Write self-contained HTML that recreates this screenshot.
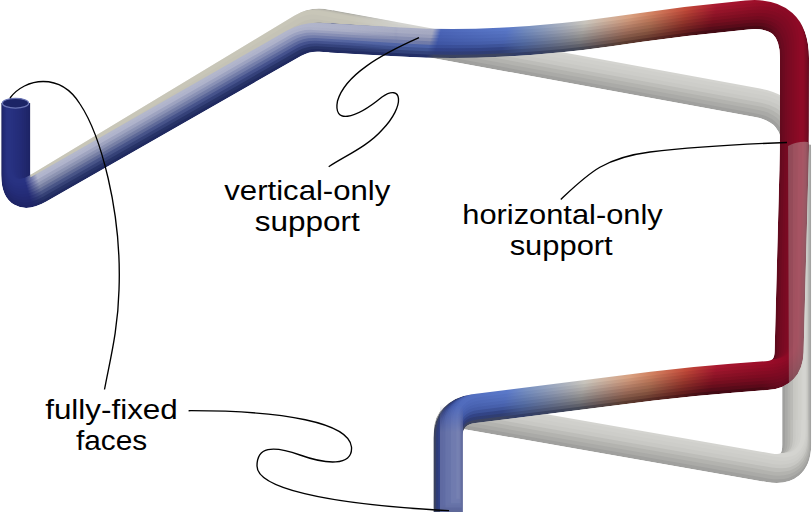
<!DOCTYPE html>
<html><head><meta charset="utf-8"><style>
html,body{margin:0;padding:0;background:#fff;width:812px;height:514px;overflow:hidden}
svg{display:block}
text{font-family:"Liberation Sans",sans-serif}
</style></head><body><svg width="812" height="514" viewBox="0 0 812 514">
<defs><mask id="mca" maskUnits="userSpaceOnUse" x="-10" y="-10" width="832" height="534"><path d="M 15.8 103.0 L 15.8 175.4 Q 15.8 202.4 39.2 189.0 L 293.8 43.4 Q 306.0 36.5 320.0 37.3 L 400.0 42.1" fill="none" stroke="#fff" stroke-width="29" stroke-linejoin="round" stroke-linecap="butt"/></mask><linearGradient id="ca0" gradientUnits="userSpaceOnUse" x1="0" y1="0" x2="812" y2="0"><stop offset="0.0000" stop-color="#1e2466"/><stop offset="0.0394" stop-color="#1e2466"/><stop offset="0.0542" stop-color="#202a60"/><stop offset="0.3695" stop-color="#202a60"/><stop offset="0.5246" stop-color="#243068"/><stop offset="0.5345" stop-color="#3a4260"/><stop offset="0.6158" stop-color="#3c4460"/><stop offset="0.6404" stop-color="#303c68"/><stop offset="0.7118" stop-color="#464a58"/><stop offset="0.7672" stop-color="#5a3c30"/><stop offset="0.7943" stop-color="#583028"/><stop offset="0.8374" stop-color="#501818"/><stop offset="0.8744" stop-color="#420a14"/><stop offset="0.9360" stop-color="#4a0814"/><stop offset="0.9606" stop-color="#640a1e"/><stop offset="1.0000" stop-color="#640a1e"/></linearGradient><linearGradient id="ca1" gradientUnits="userSpaceOnUse" x1="0" y1="0" x2="812" y2="0"><stop offset="0.0000" stop-color="#1f266a"/><stop offset="0.0394" stop-color="#1f266a"/><stop offset="0.0542" stop-color="#273367"/><stop offset="0.3695" stop-color="#273367"/><stop offset="0.5246" stop-color="#2d3b73"/><stop offset="0.5345" stop-color="#343f6e"/><stop offset="0.6158" stop-color="#35406b"/><stop offset="0.6404" stop-color="#374674"/><stop offset="0.7118" stop-color="#555863"/><stop offset="0.7672" stop-color="#684639"/><stop offset="0.7943" stop-color="#653b2f"/><stop offset="0.8374" stop-color="#5c1d1c"/><stop offset="0.8744" stop-color="#4e0b17"/><stop offset="0.9360" stop-color="#540817"/><stop offset="0.9606" stop-color="#690a1f"/><stop offset="1.0000" stop-color="#690a1f"/></linearGradient><linearGradient id="ca2" gradientUnits="userSpaceOnUse" x1="0" y1="0" x2="812" y2="0"><stop offset="0.0000" stop-color="#21286e"/><stop offset="0.0394" stop-color="#21286e"/><stop offset="0.0542" stop-color="#364276"/><stop offset="0.3695" stop-color="#34417b"/><stop offset="0.5246" stop-color="#364780"/><stop offset="0.5345" stop-color="#2e3d7c"/><stop offset="0.6158" stop-color="#2e3d75"/><stop offset="0.6404" stop-color="#3e5081"/><stop offset="0.7118" stop-color="#64666d"/><stop offset="0.7672" stop-color="#765042"/><stop offset="0.7943" stop-color="#734536"/><stop offset="0.8374" stop-color="#69231f"/><stop offset="0.8744" stop-color="#5b0d19"/><stop offset="0.9360" stop-color="#5e0919"/><stop offset="0.9606" stop-color="#6e0a20"/><stop offset="1.0000" stop-color="#6e0a20"/></linearGradient><linearGradient id="ca3" gradientUnits="userSpaceOnUse" x1="0" y1="0" x2="812" y2="0"><stop offset="0.0000" stop-color="#222972"/><stop offset="0.0394" stop-color="#222972"/><stop offset="0.0542" stop-color="#495586"/><stop offset="0.3695" stop-color="#45528e"/><stop offset="0.5246" stop-color="#405493"/><stop offset="0.5345" stop-color="#31438a"/><stop offset="0.6158" stop-color="#334685"/><stop offset="0.6404" stop-color="#45598d"/><stop offset="0.7118" stop-color="#737378"/><stop offset="0.7672" stop-color="#855b4b"/><stop offset="0.7943" stop-color="#80503d"/><stop offset="0.8374" stop-color="#752823"/><stop offset="0.8744" stop-color="#670e1c"/><stop offset="0.9360" stop-color="#69091c"/><stop offset="0.9606" stop-color="#730a21"/><stop offset="1.0000" stop-color="#730a21"/></linearGradient><linearGradient id="ca4" gradientUnits="userSpaceOnUse" x1="0" y1="0" x2="812" y2="0"><stop offset="0.0000" stop-color="#232b76"/><stop offset="0.0394" stop-color="#232b76"/><stop offset="0.0542" stop-color="#616b95"/><stop offset="0.3695" stop-color="#5c689d"/><stop offset="0.5246" stop-color="#4a61a7"/><stop offset="0.5345" stop-color="#374c96"/><stop offset="0.6158" stop-color="#3d5297"/><stop offset="0.6404" stop-color="#4c639a"/><stop offset="0.7118" stop-color="#828183"/><stop offset="0.7672" stop-color="#936554"/><stop offset="0.7943" stop-color="#8d5b44"/><stop offset="0.8374" stop-color="#822d26"/><stop offset="0.8744" stop-color="#740f1f"/><stop offset="0.9360" stop-color="#730a1f"/><stop offset="0.9606" stop-color="#780a22"/><stop offset="1.0000" stop-color="#780a22"/></linearGradient><linearGradient id="ca5" gradientUnits="userSpaceOnUse" x1="0" y1="0" x2="812" y2="0"><stop offset="0.0000" stop-color="#242d79"/><stop offset="0.0394" stop-color="#242d79"/><stop offset="0.0542" stop-color="#7981a3"/><stop offset="0.3695" stop-color="#737dab"/><stop offset="0.5246" stop-color="#6a77a8"/><stop offset="0.5345" stop-color="#3d54a3"/><stop offset="0.6158" stop-color="#465fa9"/><stop offset="0.6404" stop-color="#546ca4"/><stop offset="0.7118" stop-color="#918f8e"/><stop offset="0.7672" stop-color="#a1705c"/><stop offset="0.7943" stop-color="#9b644b"/><stop offset="0.8374" stop-color="#8e332a"/><stop offset="0.8744" stop-color="#7f1122"/><stop offset="0.9360" stop-color="#7c0a21"/><stop offset="0.9606" stop-color="#7c0a22"/><stop offset="1.0000" stop-color="#7c0a22"/></linearGradient><linearGradient id="ca6" gradientUnits="userSpaceOnUse" x1="0" y1="0" x2="812" y2="0"><stop offset="0.0000" stop-color="#252e7b"/><stop offset="0.0394" stop-color="#252e7b"/><stop offset="0.0542" stop-color="#8d94b2"/><stop offset="0.3695" stop-color="#8890b7"/><stop offset="0.5246" stop-color="#848bae"/><stop offset="0.5345" stop-color="#425aab"/><stop offset="0.6158" stop-color="#4d67b4"/><stop offset="0.6404" stop-color="#5d75ab"/><stop offset="0.7118" stop-color="#9f9c99"/><stop offset="0.7672" stop-color="#af7c65"/><stop offset="0.7943" stop-color="#a86b50"/><stop offset="0.8374" stop-color="#9b382d"/><stop offset="0.8744" stop-color="#891325"/><stop offset="0.9360" stop-color="#830b23"/><stop offset="0.9606" stop-color="#810a23"/><stop offset="1.0000" stop-color="#810a23"/></linearGradient><linearGradient id="ca7" gradientUnits="userSpaceOnUse" x1="0" y1="0" x2="812" y2="0"><stop offset="0.0000" stop-color="#262f7e"/><stop offset="0.0394" stop-color="#262f7e"/><stop offset="0.0542" stop-color="#9fa4bf"/><stop offset="0.3695" stop-color="#9ca2c1"/><stop offset="0.5246" stop-color="#979cb9"/><stop offset="0.5345" stop-color="#455eaf"/><stop offset="0.6158" stop-color="#516dbb"/><stop offset="0.6404" stop-color="#667eb2"/><stop offset="0.7118" stop-color="#aca9a5"/><stop offset="0.7672" stop-color="#bc886e"/><stop offset="0.7943" stop-color="#b57255"/><stop offset="0.8374" stop-color="#a73d31"/><stop offset="0.8744" stop-color="#941429"/><stop offset="0.9360" stop-color="#8b0b24"/><stop offset="0.9606" stop-color="#850a24"/><stop offset="1.0000" stop-color="#850a24"/></linearGradient><linearGradient id="ca8" gradientUnits="userSpaceOnUse" x1="0" y1="0" x2="812" y2="0"><stop offset="0.0000" stop-color="#273180"/><stop offset="0.0394" stop-color="#273180"/><stop offset="0.0542" stop-color="#b0b4cc"/><stop offset="0.3695" stop-color="#aeb2ca"/><stop offset="0.5246" stop-color="#a5a9c1"/><stop offset="0.5345" stop-color="#4962b4"/><stop offset="0.6158" stop-color="#5672c1"/><stop offset="0.6404" stop-color="#6f87b9"/><stop offset="0.7118" stop-color="#bab7b0"/><stop offset="0.7672" stop-color="#ca9477"/><stop offset="0.7943" stop-color="#c3795b"/><stop offset="0.8374" stop-color="#b44334"/><stop offset="0.8744" stop-color="#9e162c"/><stop offset="0.9360" stop-color="#920c26"/><stop offset="0.9606" stop-color="#8a0a25"/><stop offset="1.0000" stop-color="#8a0a25"/></linearGradient><linearGradient id="ca9" gradientUnits="userSpaceOnUse" x1="0" y1="0" x2="812" y2="0"><stop offset="0.0000" stop-color="#283282"/><stop offset="0.0394" stop-color="#283282"/><stop offset="0.0542" stop-color="#b4b8cc"/><stop offset="0.3695" stop-color="#b2b6cc"/><stop offset="0.5246" stop-color="#a8acc4"/><stop offset="0.5345" stop-color="#4c66b8"/><stop offset="0.6158" stop-color="#5a78c8"/><stop offset="0.6404" stop-color="#7890c0"/><stop offset="0.7118" stop-color="#c8c4bc"/><stop offset="0.7672" stop-color="#d8a080"/><stop offset="0.7943" stop-color="#d08060"/><stop offset="0.8374" stop-color="#c04838"/><stop offset="0.8744" stop-color="#a81830"/><stop offset="0.9360" stop-color="#9a0c28"/><stop offset="0.9606" stop-color="#8e0a26"/><stop offset="1.0000" stop-color="#8e0a26"/></linearGradient><mask id="mcb" maskUnits="userSpaceOnUse" x="-10" y="-10" width="832" height="534"><path d="M 330.0 37.9 L 400.1 42.0 Q 450.0 45.0 499.9 42.3 L 510.1 41.7 Q 560.0 39.0 609.5 31.9 L 640.5 27.5 Q 690.0 20.4 739.8 15.7 L 746.8 15.0 Q 794.6 10.5 794.5 58.5 L 794.4 130.0 Q 794.4 150.0 793.9 170.0 L 789.1 352.0 Q 788.5 374.0 766.6 375.6 L 731.9 378.2 Q 692.0 381.2 652.3 386.2 L 473.8 408.7 Q 448.0 412.0 448.0 438.0 L 448.0 512.0" fill="none" stroke="#fff" stroke-width="29" stroke-linejoin="round" stroke-linecap="butt"/></mask><linearGradient id="cb0" gradientUnits="userSpaceOnUse" x1="0" y1="0" x2="812" y2="0"><stop offset="0.0000" stop-color="#1e2466"/><stop offset="0.0394" stop-color="#1e2466"/><stop offset="0.0542" stop-color="#202a60"/><stop offset="0.3695" stop-color="#202a60"/><stop offset="0.5246" stop-color="#243068"/><stop offset="0.5345" stop-color="#3a4260"/><stop offset="0.6158" stop-color="#3c4460"/><stop offset="0.6404" stop-color="#303c68"/><stop offset="0.7118" stop-color="#464a58"/><stop offset="0.7672" stop-color="#5a3c30"/><stop offset="0.7943" stop-color="#583028"/><stop offset="0.8374" stop-color="#501818"/><stop offset="0.8744" stop-color="#420a14"/><stop offset="0.9360" stop-color="#4a0814"/><stop offset="0.9606" stop-color="#640a1e"/><stop offset="1.0000" stop-color="#640a1e"/></linearGradient><linearGradient id="cb1" gradientUnits="userSpaceOnUse" x1="0" y1="0" x2="812" y2="0"><stop offset="0.0000" stop-color="#20276d"/><stop offset="0.0394" stop-color="#20276d"/><stop offset="0.0542" stop-color="#323e72"/><stop offset="0.3695" stop-color="#303d75"/><stop offset="0.5246" stop-color="#33437b"/><stop offset="0.5345" stop-color="#2f3d78"/><stop offset="0.6158" stop-color="#303e72"/><stop offset="0.6404" stop-color="#3c4d7d"/><stop offset="0.7118" stop-color="#60616a"/><stop offset="0.7672" stop-color="#724d3f"/><stop offset="0.7943" stop-color="#6f4234"/><stop offset="0.8374" stop-color="#65211e"/><stop offset="0.8744" stop-color="#570c19"/><stop offset="0.9360" stop-color="#5b0919"/><stop offset="0.9606" stop-color="#6c0a20"/><stop offset="1.0000" stop-color="#6c0a20"/></linearGradient><linearGradient id="cb2" gradientUnits="userSpaceOnUse" x1="0" y1="0" x2="812" y2="0"><stop offset="0.0000" stop-color="#222972"/><stop offset="0.0394" stop-color="#222972"/><stop offset="0.0542" stop-color="#495485"/><stop offset="0.3695" stop-color="#44528d"/><stop offset="0.5246" stop-color="#3f5493"/><stop offset="0.5345" stop-color="#314289"/><stop offset="0.6158" stop-color="#334585"/><stop offset="0.6404" stop-color="#45598d"/><stop offset="0.7118" stop-color="#737378"/><stop offset="0.7672" stop-color="#845a4a"/><stop offset="0.7943" stop-color="#80503d"/><stop offset="0.8374" stop-color="#752823"/><stop offset="0.8744" stop-color="#670e1c"/><stop offset="0.9360" stop-color="#68091c"/><stop offset="0.9606" stop-color="#730a21"/><stop offset="1.0000" stop-color="#730a21"/></linearGradient><linearGradient id="cb3" gradientUnits="userSpaceOnUse" x1="0" y1="0" x2="812" y2="0"><stop offset="0.0000" stop-color="#232b76"/><stop offset="0.0394" stop-color="#232b76"/><stop offset="0.0542" stop-color="#636d96"/><stop offset="0.3695" stop-color="#5e6a9e"/><stop offset="0.5246" stop-color="#4c63a8"/><stop offset="0.5345" stop-color="#384d98"/><stop offset="0.6158" stop-color="#3e5499"/><stop offset="0.6404" stop-color="#4d649b"/><stop offset="0.7118" stop-color="#848384"/><stop offset="0.7672" stop-color="#946655"/><stop offset="0.7943" stop-color="#8f5c45"/><stop offset="0.8374" stop-color="#832e27"/><stop offset="0.8744" stop-color="#750f1f"/><stop offset="0.9360" stop-color="#740a1f"/><stop offset="0.9606" stop-color="#780a22"/><stop offset="1.0000" stop-color="#780a22"/></linearGradient><linearGradient id="cb4" gradientUnits="userSpaceOnUse" x1="0" y1="0" x2="812" y2="0"><stop offset="0.0000" stop-color="#252d79"/><stop offset="0.0394" stop-color="#252d79"/><stop offset="0.0542" stop-color="#7d85a6"/><stop offset="0.3695" stop-color="#7781ae"/><stop offset="0.5246" stop-color="#707ba8"/><stop offset="0.5345" stop-color="#3f56a5"/><stop offset="0.6158" stop-color="#4861ac"/><stop offset="0.6404" stop-color="#566ea5"/><stop offset="0.7118" stop-color="#939190"/><stop offset="0.7672" stop-color="#a3725e"/><stop offset="0.7943" stop-color="#9d654c"/><stop offset="0.8374" stop-color="#90342a"/><stop offset="0.8744" stop-color="#811122"/><stop offset="0.9360" stop-color="#7d0a21"/><stop offset="0.9606" stop-color="#7d0a23"/><stop offset="1.0000" stop-color="#7d0a23"/></linearGradient><linearGradient id="cb5" gradientUnits="userSpaceOnUse" x1="0" y1="0" x2="812" y2="0"><stop offset="0.0000" stop-color="#252e7c"/><stop offset="0.0394" stop-color="#252e7c"/><stop offset="0.0542" stop-color="#9097b4"/><stop offset="0.3695" stop-color="#8b93b9"/><stop offset="0.5246" stop-color="#878eb0"/><stop offset="0.5345" stop-color="#435bab"/><stop offset="0.6158" stop-color="#4d68b5"/><stop offset="0.6404" stop-color="#5f77ac"/><stop offset="0.7118" stop-color="#a19e9b"/><stop offset="0.7672" stop-color="#b17e67"/><stop offset="0.7943" stop-color="#aa6c51"/><stop offset="0.8374" stop-color="#9d392e"/><stop offset="0.8744" stop-color="#8b1326"/><stop offset="0.9360" stop-color="#850b23"/><stop offset="0.9606" stop-color="#810a23"/><stop offset="1.0000" stop-color="#810a23"/></linearGradient><linearGradient id="cb6" gradientUnits="userSpaceOnUse" x1="0" y1="0" x2="812" y2="0"><stop offset="0.0000" stop-color="#26307e"/><stop offset="0.0394" stop-color="#26307e"/><stop offset="0.0542" stop-color="#a2a7c1"/><stop offset="0.3695" stop-color="#9fa4c2"/><stop offset="0.5246" stop-color="#9a9fbb"/><stop offset="0.5345" stop-color="#465fb0"/><stop offset="0.6158" stop-color="#526ebc"/><stop offset="0.6404" stop-color="#6880b3"/><stop offset="0.7118" stop-color="#afaba7"/><stop offset="0.7672" stop-color="#bf8a70"/><stop offset="0.7943" stop-color="#b77356"/><stop offset="0.8374" stop-color="#a93e31"/><stop offset="0.8744" stop-color="#951529"/><stop offset="0.9360" stop-color="#8c0b25"/><stop offset="0.9606" stop-color="#860a24"/><stop offset="1.0000" stop-color="#860a24"/></linearGradient><linearGradient id="cb7" gradientUnits="userSpaceOnUse" x1="0" y1="0" x2="812" y2="0"><stop offset="0.0000" stop-color="#273180"/><stop offset="0.0394" stop-color="#273180"/><stop offset="0.0542" stop-color="#b1b5cc"/><stop offset="0.3695" stop-color="#afb3ca"/><stop offset="0.5246" stop-color="#a5a9c1"/><stop offset="0.5345" stop-color="#4962b4"/><stop offset="0.6158" stop-color="#5673c2"/><stop offset="0.6404" stop-color="#7088ba"/><stop offset="0.7118" stop-color="#bbb8b1"/><stop offset="0.7672" stop-color="#cb9578"/><stop offset="0.7943" stop-color="#c47a5b"/><stop offset="0.8374" stop-color="#b54335"/><stop offset="0.8744" stop-color="#9f162d"/><stop offset="0.9360" stop-color="#930c26"/><stop offset="0.9606" stop-color="#8a0a25"/><stop offset="1.0000" stop-color="#8a0a25"/></linearGradient><linearGradient id="cb8" gradientUnits="userSpaceOnUse" x1="0" y1="0" x2="812" y2="0"><stop offset="0.0000" stop-color="#283282"/><stop offset="0.0394" stop-color="#283282"/><stop offset="0.0542" stop-color="#b4b8cc"/><stop offset="0.3695" stop-color="#b2b6cc"/><stop offset="0.5246" stop-color="#a8acc4"/><stop offset="0.5345" stop-color="#4c66b8"/><stop offset="0.6158" stop-color="#5a78c8"/><stop offset="0.6404" stop-color="#7890c0"/><stop offset="0.7118" stop-color="#c8c4bc"/><stop offset="0.7672" stop-color="#d8a080"/><stop offset="0.7943" stop-color="#d08060"/><stop offset="0.8374" stop-color="#c04838"/><stop offset="0.8744" stop-color="#a81830"/><stop offset="0.9360" stop-color="#9a0c28"/><stop offset="0.9606" stop-color="#8e0a26"/><stop offset="1.0000" stop-color="#8e0a26"/></linearGradient><mask id="mga" maskUnits="userSpaceOnUse" x="-10" y="-10" width="832" height="534"><path d="M 15.8 103.0 L 15.8 173.5 Q 15.8 200.5 38.9 186.6 L 301.6 28.1 Q 312.7 21.4 325.5 23.7 L 400.0 37.1" fill="none" stroke="#fff" stroke-width="29" stroke-linejoin="round" stroke-linecap="butt"/></mask><mask id="mgb" maskUnits="userSpaceOnUse" x="-10" y="-10" width="832" height="534"><path d="M 330.0 24.5 L 757.4 102.8 Q 796.7 110.0 796.7 150.0 L 796.7 444.6 Q 796.7 472.6 769.1 467.8 L 469.7 415.4 Q 448.0 411.6 448.0 433.6 L 448.0 512.0" fill="none" stroke="#fff" stroke-width="29" stroke-linejoin="round" stroke-linecap="butt"/></mask><mask id="mgv" maskUnits="userSpaceOnUse" x="-10" y="-10" width="832" height="534"><path d="M 796.7 120 L 796.7 470" fill="none" stroke="#fff" stroke-width="26" stroke-linejoin="round" stroke-linecap="butt"/></mask><mask id="mgbo" maskUnits="userSpaceOnUse" x="-10" y="-10" width="832" height="534"><path d="M 451.5 400 L 451.5 512" fill="none" stroke="#fff" stroke-width="23" stroke-linejoin="round" stroke-linecap="butt"/></mask>
<linearGradient id="fadeG" gradientUnits="userSpaceOnUse" x1="350" y1="0" x2="398" y2="0"><stop offset="0" stop-color="#fff"/><stop offset="1" stop-color="#000"/></linearGradient>
<mask id="fadeA" maskUnits="userSpaceOnUse" x="0" y="0" width="812" height="514"><rect width="812" height="514" fill="url(#fadeG)"/></mask>
<clipPath id="clipGR"><path d="M 0 0 L 800 0 L 800 143 L 812 145 L 812 514 L 0 514 Z"/></clipPath>
<clipPath id="clipTop"><path d="M 0 103 L 40 103 L 40 0 L 812 0 L 812 514 L 0 514 Z"/></clipPath>
<clipPath id="clipR"><path d="M 788 146 Q 798 141 808 142 L 808 180 L 812 182 L 812 420 L 789 420 Z"/></clipPath>
<linearGradient id="mgB" x1="0" y1="0" x2="0" y2="1"><stop offset="0" stop-color="#000"/><stop offset="0.25" stop-color="#fff"/></linearGradient>
<mask id="clipBm" maskUnits="userSpaceOnUse" x="0" y="0" width="812" height="514"><rect x="440" y="405" width="30" height="109" fill="url(#mgB)"/></mask>
</defs>
<rect width="812" height="514" fill="#fff"/>
<g clip-path="url(#clipTop)">
<g clip-path="url(#clipGR)"><g mask="url(#mgb)" fill="none" stroke-linejoin="round" stroke-linecap="butt">
<path d="M 330.0 24.5 L 757.4 102.8 Q 796.7 110.0 796.7 150.0 L 796.7 444.6 Q 796.7 472.6 769.1 467.8 L 469.7 415.4 Q 448.0 411.6 448.0 433.6 L 448.0 512.0" stroke="#a0a09e" stroke-width="29.0" transform="translate(0.00 -0.00)"/>
<path d="M 330.0 24.5 L 757.4 102.8 Q 796.7 110.0 796.7 150.0 L 796.7 444.6 Q 796.7 472.6 769.1 467.8 L 469.7 415.4 Q 448.0 411.6 448.0 433.6 L 448.0 512.0" stroke="#aaaaa7" stroke-width="25.5" transform="translate(0.95 -1.90)"/>
<path d="M 330.0 24.5 L 757.4 102.8 Q 796.7 110.0 796.7 150.0 L 796.7 444.6 Q 796.7 472.6 769.1 467.8 L 469.7 415.4 Q 448.0 411.6 448.0 433.6 L 448.0 512.0" stroke="#b3b3af" stroke-width="22.0" transform="translate(1.90 -3.80)"/>
<path d="M 330.0 24.5 L 757.4 102.8 Q 796.7 110.0 796.7 150.0 L 796.7 444.6 Q 796.7 472.6 769.1 467.8 L 469.7 415.4 Q 448.0 411.6 448.0 433.6 L 448.0 512.0" stroke="#bdbdb9" stroke-width="18.4" transform="translate(2.85 -5.70)"/>
<path d="M 330.0 24.5 L 757.4 102.8 Q 796.7 110.0 796.7 150.0 L 796.7 444.6 Q 796.7 472.6 769.1 467.8 L 469.7 415.4 Q 448.0 411.6 448.0 433.6 L 448.0 512.0" stroke="#c8c8c4" stroke-width="14.9" transform="translate(3.80 -7.61)"/>
<path d="M 330.0 24.5 L 757.4 102.8 Q 796.7 110.0 796.7 150.0 L 796.7 444.6 Q 796.7 472.6 769.1 467.8 L 469.7 415.4 Q 448.0 411.6 448.0 433.6 L 448.0 512.0" stroke="#cdcdc9" stroke-width="11.4" transform="translate(4.75 -9.51)"/>
<path d="M 330.0 24.5 L 757.4 102.8 Q 796.7 110.0 796.7 150.0 L 796.7 444.6 Q 796.7 472.6 769.1 467.8 L 469.7 415.4 Q 448.0 411.6 448.0 433.6 L 448.0 512.0" stroke="#d0d0cc" stroke-width="7.9" transform="translate(5.70 -11.41)"/>
<path d="M 330.0 24.5 L 757.4 102.8 Q 796.7 110.0 796.7 150.0 L 796.7 444.6 Q 796.7 472.6 769.1 467.8 L 469.7 415.4 Q 448.0 411.6 448.0 433.6 L 448.0 512.0" stroke="#d4d4d0" stroke-width="4.4" transform="translate(6.66 -13.31)"/>
</g></g><g mask="url(#fadeA)"><g mask="url(#mga)" fill="none" stroke-linejoin="round" stroke-linecap="butt">
<path d="M 15.8 103.0 L 15.8 173.5 Q 15.8 200.5 38.9 186.6 L 301.6 28.1 Q 312.7 21.4 325.5 23.7 L 400.0 37.1" stroke="#a8a8a0" stroke-width="29.0" transform="translate(-0.00 -0.00)"/>
<path d="M 15.8 103.0 L 15.8 173.5 Q 15.8 200.5 38.9 186.6 L 301.6 28.1 Q 312.7 21.4 325.5 23.7 L 400.0 37.1" stroke="#b5b4aa" stroke-width="24.1" transform="translate(-1.23 -2.14)"/>
<path d="M 15.8 103.0 L 15.8 173.5 Q 15.8 200.5 38.9 186.6 L 301.6 28.1 Q 312.7 21.4 325.5 23.7 L 400.0 37.1" stroke="#bdbbb0" stroke-width="19.1" transform="translate(-2.47 -4.29)"/>
<path d="M 15.8 103.0 L 15.8 173.5 Q 15.8 200.5 38.9 186.6 L 301.6 28.1 Q 312.7 21.4 325.5 23.7 L 400.0 37.1" stroke="#c1bfb3" stroke-width="14.2" transform="translate(-3.70 -6.43)"/>
<path d="M 15.8 103.0 L 15.8 173.5 Q 15.8 200.5 38.9 186.6 L 301.6 28.1 Q 312.7 21.4 325.5 23.7 L 400.0 37.1" stroke="#c5c3b6" stroke-width="9.3" transform="translate(-4.93 -8.58)"/>
<path d="M 15.8 103.0 L 15.8 173.5 Q 15.8 200.5 38.9 186.6 L 301.6 28.1 Q 312.7 21.4 325.5 23.7 L 400.0 37.1" stroke="#c8c6b8" stroke-width="4.4" transform="translate(-6.16 -10.72)"/>
</g></g>
<g mask="url(#mcb)" fill="none" stroke-linejoin="round" stroke-linecap="butt">
<path d="M 330.0 37.9 L 400.1 42.0 Q 450.0 45.0 499.9 42.3 L 510.1 41.7 Q 560.0 39.0 609.5 31.9 L 640.5 27.5 Q 690.0 20.4 739.8 15.7 L 746.8 15.0 Q 794.6 10.5 794.5 58.5 L 794.4 130.0 Q 794.4 150.0 793.9 170.0 L 789.1 352.0 Q 788.5 374.0 766.6 375.6 L 731.9 378.2 Q 692.0 381.2 652.3 386.2 L 473.8 408.7 Q 448.0 412.0 448.0 438.0 L 448.0 512.0" stroke="url(#cb0)" stroke-width="29.0" transform="translate(0.00 -0.00)"/>
<path d="M 330.0 37.9 L 400.1 42.0 Q 450.0 45.0 499.9 42.3 L 510.1 41.7 Q 560.0 39.0 609.5 31.9 L 640.5 27.5 Q 690.0 20.4 739.8 15.7 L 746.8 15.0 Q 794.6 10.5 794.5 58.5 L 794.4 130.0 Q 794.4 150.0 793.9 170.0 L 789.1 352.0 Q 788.5 374.0 766.6 375.6 L 731.9 378.2 Q 692.0 381.2 652.3 386.2 L 473.8 408.7 Q 448.0 412.0 448.0 438.0 L 448.0 512.0" stroke="url(#cb1)" stroke-width="25.9" transform="translate(0.87 -1.73)"/>
<path d="M 330.0 37.9 L 400.1 42.0 Q 450.0 45.0 499.9 42.3 L 510.1 41.7 Q 560.0 39.0 609.5 31.9 L 640.5 27.5 Q 690.0 20.4 739.8 15.7 L 746.8 15.0 Q 794.6 10.5 794.5 58.5 L 794.4 130.0 Q 794.4 150.0 793.9 170.0 L 789.1 352.0 Q 788.5 374.0 766.6 375.6 L 731.9 378.2 Q 692.0 381.2 652.3 386.2 L 473.8 408.7 Q 448.0 412.0 448.0 438.0 L 448.0 512.0" stroke="url(#cb2)" stroke-width="22.8" transform="translate(1.73 -3.47)"/>
<path d="M 330.0 37.9 L 400.1 42.0 Q 450.0 45.0 499.9 42.3 L 510.1 41.7 Q 560.0 39.0 609.5 31.9 L 640.5 27.5 Q 690.0 20.4 739.8 15.7 L 746.8 15.0 Q 794.6 10.5 794.5 58.5 L 794.4 130.0 Q 794.4 150.0 793.9 170.0 L 789.1 352.0 Q 788.5 374.0 766.6 375.6 L 731.9 378.2 Q 692.0 381.2 652.3 386.2 L 473.8 408.7 Q 448.0 412.0 448.0 438.0 L 448.0 512.0" stroke="url(#cb3)" stroke-width="19.8" transform="translate(2.60 -5.20)"/>
<path d="M 330.0 37.9 L 400.1 42.0 Q 450.0 45.0 499.9 42.3 L 510.1 41.7 Q 560.0 39.0 609.5 31.9 L 640.5 27.5 Q 690.0 20.4 739.8 15.7 L 746.8 15.0 Q 794.6 10.5 794.5 58.5 L 794.4 130.0 Q 794.4 150.0 793.9 170.0 L 789.1 352.0 Q 788.5 374.0 766.6 375.6 L 731.9 378.2 Q 692.0 381.2 652.3 386.2 L 473.8 408.7 Q 448.0 412.0 448.0 438.0 L 448.0 512.0" stroke="url(#cb4)" stroke-width="16.7" transform="translate(3.47 -6.93)"/>
<path d="M 330.0 37.9 L 400.1 42.0 Q 450.0 45.0 499.9 42.3 L 510.1 41.7 Q 560.0 39.0 609.5 31.9 L 640.5 27.5 Q 690.0 20.4 739.8 15.7 L 746.8 15.0 Q 794.6 10.5 794.5 58.5 L 794.4 130.0 Q 794.4 150.0 793.9 170.0 L 789.1 352.0 Q 788.5 374.0 766.6 375.6 L 731.9 378.2 Q 692.0 381.2 652.3 386.2 L 473.8 408.7 Q 448.0 412.0 448.0 438.0 L 448.0 512.0" stroke="url(#cb5)" stroke-width="13.6" transform="translate(4.33 -8.67)"/>
<path d="M 330.0 37.9 L 400.1 42.0 Q 450.0 45.0 499.9 42.3 L 510.1 41.7 Q 560.0 39.0 609.5 31.9 L 640.5 27.5 Q 690.0 20.4 739.8 15.7 L 746.8 15.0 Q 794.6 10.5 794.5 58.5 L 794.4 130.0 Q 794.4 150.0 793.9 170.0 L 789.1 352.0 Q 788.5 374.0 766.6 375.6 L 731.9 378.2 Q 692.0 381.2 652.3 386.2 L 473.8 408.7 Q 448.0 412.0 448.0 438.0 L 448.0 512.0" stroke="url(#cb6)" stroke-width="10.5" transform="translate(5.20 -10.40)"/>
<path d="M 330.0 37.9 L 400.1 42.0 Q 450.0 45.0 499.9 42.3 L 510.1 41.7 Q 560.0 39.0 609.5 31.9 L 640.5 27.5 Q 690.0 20.4 739.8 15.7 L 746.8 15.0 Q 794.6 10.5 794.5 58.5 L 794.4 130.0 Q 794.4 150.0 793.9 170.0 L 789.1 352.0 Q 788.5 374.0 766.6 375.6 L 731.9 378.2 Q 692.0 381.2 652.3 386.2 L 473.8 408.7 Q 448.0 412.0 448.0 438.0 L 448.0 512.0" stroke="url(#cb7)" stroke-width="7.4" transform="translate(6.07 -12.13)"/>
<path d="M 330.0 37.9 L 400.1 42.0 Q 450.0 45.0 499.9 42.3 L 510.1 41.7 Q 560.0 39.0 609.5 31.9 L 640.5 27.5 Q 690.0 20.4 739.8 15.7 L 746.8 15.0 Q 794.6 10.5 794.5 58.5 L 794.4 130.0 Q 794.4 150.0 793.9 170.0 L 789.1 352.0 Q 788.5 374.0 766.6 375.6 L 731.9 378.2 Q 692.0 381.2 652.3 386.2 L 473.8 408.7 Q 448.0 412.0 448.0 438.0 L 448.0 512.0" stroke="url(#cb8)" stroke-width="4.4" transform="translate(6.93 -13.87)"/>
</g><g mask="url(#fadeA)"><g mask="url(#mca)" fill="none" stroke-linejoin="round" stroke-linecap="butt">
<path d="M 15.8 103.0 L 15.8 175.4 Q 15.8 202.4 39.2 189.0 L 293.8 43.4 Q 306.0 36.5 320.0 37.3 L 400.0 42.1" stroke="url(#ca0)" stroke-width="29.0" transform="translate(-0.00 -0.00)"/>
<path d="M 15.8 103.0 L 15.8 175.4 Q 15.8 202.4 39.2 189.0 L 293.8 43.4 Q 306.0 36.5 320.0 37.3 L 400.0 42.1" stroke="url(#ca1)" stroke-width="26.3" transform="translate(-0.79 -1.37)"/>
<path d="M 15.8 103.0 L 15.8 175.4 Q 15.8 202.4 39.2 189.0 L 293.8 43.4 Q 306.0 36.5 320.0 37.3 L 400.0 42.1" stroke="url(#ca2)" stroke-width="23.5" transform="translate(-1.57 -2.74)"/>
<path d="M 15.8 103.0 L 15.8 175.4 Q 15.8 202.4 39.2 189.0 L 293.8 43.4 Q 306.0 36.5 320.0 37.3 L 400.0 42.1" stroke="url(#ca3)" stroke-width="20.8" transform="translate(-2.36 -4.11)"/>
<path d="M 15.8 103.0 L 15.8 175.4 Q 15.8 202.4 39.2 189.0 L 293.8 43.4 Q 306.0 36.5 320.0 37.3 L 400.0 42.1" stroke="url(#ca4)" stroke-width="18.0" transform="translate(-3.15 -5.48)"/>
<path d="M 15.8 103.0 L 15.8 175.4 Q 15.8 202.4 39.2 189.0 L 293.8 43.4 Q 306.0 36.5 320.0 37.3 L 400.0 42.1" stroke="url(#ca5)" stroke-width="15.3" transform="translate(-3.94 -6.85)"/>
<path d="M 15.8 103.0 L 15.8 175.4 Q 15.8 202.4 39.2 189.0 L 293.8 43.4 Q 306.0 36.5 320.0 37.3 L 400.0 42.1" stroke="url(#ca6)" stroke-width="12.6" transform="translate(-4.72 -8.22)"/>
<path d="M 15.8 103.0 L 15.8 175.4 Q 15.8 202.4 39.2 189.0 L 293.8 43.4 Q 306.0 36.5 320.0 37.3 L 400.0 42.1" stroke="url(#ca7)" stroke-width="9.8" transform="translate(-5.51 -9.59)"/>
<path d="M 15.8 103.0 L 15.8 175.4 Q 15.8 202.4 39.2 189.0 L 293.8 43.4 Q 306.0 36.5 320.0 37.3 L 400.0 42.1" stroke="url(#ca8)" stroke-width="7.1" transform="translate(-6.30 -10.96)"/>
<path d="M 15.8 103.0 L 15.8 175.4 Q 15.8 202.4 39.2 189.0 L 293.8 43.4 Q 306.0 36.5 320.0 37.3 L 400.0 42.1" stroke="url(#ca9)" stroke-width="4.4" transform="translate(-7.09 -12.33)"/>
</g></g>
</g>
<g clip-path="url(#clipR)" opacity="0.38">
<g mask="url(#mgv)" fill="none" stroke-linejoin="round" stroke-linecap="butt">
<path d="M 796.7 120 L 796.7 470" stroke="#a8a8a6" stroke-width="26.0" transform="translate(0.00 -0.00)"/>
<path d="M 796.7 120 L 796.7 470" stroke="#b6b6b3" stroke-width="20.5" transform="translate(1.86 -3.73)"/>
<path d="M 796.7 120 L 796.7 470" stroke="#c4c4c0" stroke-width="14.9" transform="translate(3.73 -7.46)"/>
<path d="M 796.7 120 L 796.7 470" stroke="#ccccc8" stroke-width="9.4" transform="translate(5.59 -11.19)"/>
<path d="M 796.7 120 L 796.7 470" stroke="#d4d4d0" stroke-width="3.9" transform="translate(7.46 -14.92)"/>
</g>
</g>
<g mask="url(#clipBm)" opacity="0.85">
<g mask="url(#mgbo)" fill="none" stroke-linejoin="round" stroke-linecap="butt">
<path d="M 451.5 400 L 451.5 512" stroke="#6670a4" stroke-width="23.0" transform="translate(0.00 -0.00)"/>
<path d="M 451.5 400 L 451.5 512" stroke="#6e78a9" stroke-width="16.5" transform="translate(2.20 -4.40)"/>
<path d="M 451.5 400 L 451.5 512" stroke="#767fae" stroke-width="10.0" transform="translate(4.40 -8.80)"/>
<path d="M 451.5 400 L 451.5 512" stroke="#7e86b2" stroke-width="3.5" transform="translate(6.60 -13.20)"/>
</g>
</g>
<ellipse cx="15.5" cy="103.2" rx="13.2" ry="4.9" fill="#1c2466" stroke="#6a74b4" stroke-width="1.2"/>
<g fill="none" stroke="#000" stroke-width="1.35">
  <path d="M 10 98 C 25 78, 60 72, 80 104 C 100 134, 122 210, 119 290 C 118 330, 110 360, 104.5 389.5"/>
  <path d="M 419 37.7 C 380 55, 345 75, 337.5 101 C 333 124, 354 120, 382 97 C 402 83, 406 105, 382 130 C 368 146, 345 156, 328.7 166.7"/>
  <path d="M 560.8 199.4 C 588 174, 603 158, 650 152 C 700 146, 760 143.5, 787 142.5"/>
  <path d="M 188.6 410.7 C 285 410.5, 349 423, 351.5 447 C 353 467, 325 464, 300 455 C 272 445, 257 447, 257 466 C 257 487, 320 504, 449 510.7"/>
</g>
<g font-size="27.5" fill="#000" text-anchor="middle">
  <text x="307.3" y="200.3" textLength="166" lengthAdjust="spacingAndGlyphs">vertical-only</text>
  <text x="307.3" y="231" textLength="105" lengthAdjust="spacingAndGlyphs">support</text>
  <text x="562.5" y="223.6" textLength="200.5" lengthAdjust="spacingAndGlyphs">horizontal-only</text>
  <text x="561.2" y="254.6" textLength="103" lengthAdjust="spacingAndGlyphs">support</text>
  <text x="111.5" y="418.7" textLength="132.6" lengthAdjust="spacingAndGlyphs">fully-fixed</text>
  <text x="111.6" y="450.4" textLength="71.3" lengthAdjust="spacingAndGlyphs">faces</text>
</g>
</svg></body></html>
